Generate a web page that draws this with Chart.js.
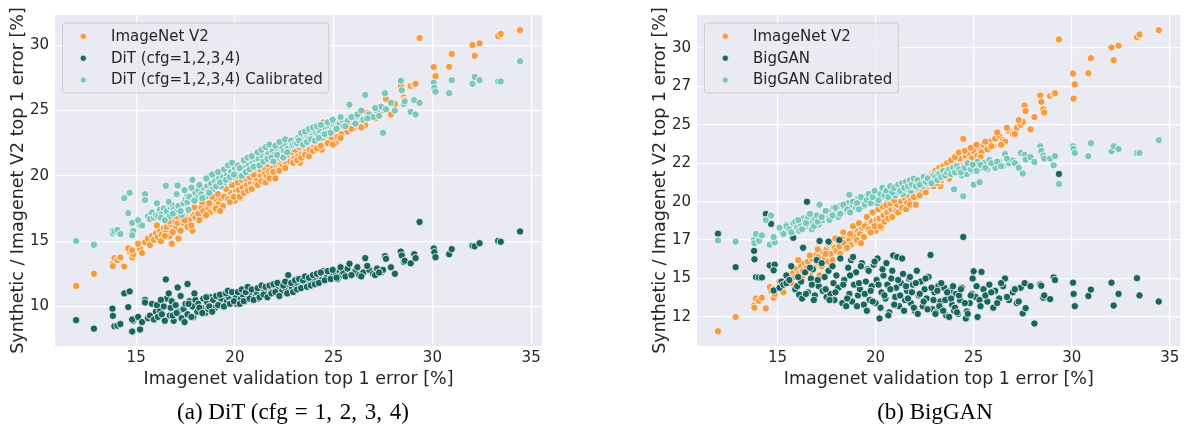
<!DOCTYPE html>
<html><head><meta charset="utf-8">
<script src="https://cdn.jsdelivr.net/npm/chart.js@4.4.1/dist/chart.umd.min.js"></script>
<style>
html,body{margin:0;padding:0;background:#fff;width:1185px;height:425px;overflow:hidden;position:relative;}
#c1{position:absolute;left:0;top:0;}
#c2{position:absolute;left:620px;top:0;}
.cap{position:absolute;top:399px;font-family:"Liberation Serif","Times New Roman",serif;font-size:23px;line-height:26px;color:#000;white-space:nowrap;transform:translateX(-50%);}
.m{word-spacing:2px;}
</style></head><body>
<canvas id="c1" width="565" height="400"></canvas>
<canvas id="c2" width="565" height="400"></canvas>
<div class="cap" id="cap1" style="left:293px"></div>
<div class="cap" id="cap2" style="left:935px"></div>
<script>
// ---- data ----
const valError = [
11.96,12.86,13.80,13.82,13.90,14.05,14.20,14.40,14.67,14.60,
14.80,14.85,14.80,15.20,15.10,15.30,15.45,15.45,15.60,15.70,
15.80,15.90,16.00,16.10,16.20,16.30,16.40,16.50,16.55,16.70,
16.75,16.80,16.90,17.00,17.10,17.14,17.30,17.40,17.50,17.60,
17.60,17.70,17.85,17.90,18.00,18.10,18.15,18.30,18.40,18.50,
18.60,18.66,18.75,18.80,18.90,19.00,19.10,19.20,19.30,19.40,
19.50,19.60,19.70,19.80,19.90,20.00,20.05,20.10,20.20,20.30,
20.40,20.50,20.60,20.70,20.80,20.90,21.00,21.05,21.10,21.20,
21.30,21.40,21.50,21.60,21.70,21.80,21.90,22.00,22.10,22.20,
22.30,22.40,22.50,22.60,22.70,22.80,22.90,23.00,23.10,23.20,
23.30,23.40,23.50,23.60,23.70,23.80,23.90,24.00,24.10,24.20,
24.30,24.40,24.47,24.60,24.65,24.80,24.90,25.00,25.10,25.20,
25.30,25.40,25.50,25.70,25.80,26.00,26.10,26.30,26.50,26.60,
26.80,27.00,27.20,27.40,27.50,27.60,27.65,27.90,28.10,28.40,
28.45,28.55,28.60,28.90,29.08,29.15,29.35,30.07,30.10,30.16,
30.85,30.98,32.03,32.14,32.39,33.33,33.46,34.44,
16.05,16.25,16.45,16.65,16.85,17.05,17.25,17.45,17.65,17.80,
17.95,18.20,18.35,18.55,18.70,18.85,19.05,19.15,19.25,19.45,
19.55,19.65,19.75,19.85,19.95,20.15,20.25,20.35,20.45,20.55,
20.65,20.75,20.85,20.95,21.15,21.25,21.35,21.45,21.55,21.65,
21.75,21.85,21.95,22.05,22.15,22.25,22.45,22.55,22.65,22.85,
22.95,23.05,23.15,23.25,23.35,23.45,23.55,23.65,23.75,23.85,
23.95,24.05,24.15,24.25,24.35,24.55,24.70,24.85,24.95,25.15,
25.35,25.60,25.90,26.20,26.40,26.70,27.10,27.30];

const v2Error = [
11.57,12.50,13.25,13.10,13.70,13.55,13.75,13.05,14.20,14.45,
13.75,14.00,14.30,14.40,14.80,14.10,15.00,14.90,15.20,14.70,
15.40,15.10,15.60,15.30,15.80,15.50,16.00,15.70,16.10,15.40,
16.30,14.80,16.50,16.00,16.40,15.20,16.70,16.40,16.90,16.10,
17.20,16.60,15.80,17.00,16.80,17.40,17.10,17.60,17.30,16.90,
17.80,17.50,17.20,18.00,17.70,17.40,18.10,17.90,18.30,17.70,
18.50,18.20,18.00,18.70,18.40,18.10,18.80,18.50,18.90,18.30,
19.10,18.70,19.30,18.90,19.50,19.10,19.70,19.40,19.80,19.30,
20.00,19.60,20.20,19.90,20.40,20.10,20.60,20.30,20.80,20.50,
21.00,20.70,21.20,20.90,21.40,21.10,21.60,21.30,21.80,21.50,
21.00,21.70,22.10,21.90,22.30,22.00,22.50,22.20,22.60,22.40,
22.80,22.00,24.08,22.90,22.60,23.10,22.80,23.30,22.50,23.00,
23.50,23.20,23.70,23.40,23.90,23.60,24.10,24.30,24.00,23.90,
24.60,24.40,24.80,25.00,25.20,26.25,25.90,24.70,25.50,26.90,
26.50,26.00,25.80,26.88,27.00,27.05,30.55,28.33,26.70,27.63,
28.35,29.33,30.02,29.20,30.15,30.70,30.87,31.15,
16.20,15.00,15.40,16.50,15.70,16.90,15.80,16.60,17.30,16.20,
17.60,16.60,18.00,17.00,17.90,18.40,17.50,18.60,17.30,18.40,
19.00,18.20,18.00,19.30,18.40,19.50,18.40,19.70,18.70,19.80,
18.90,19.90,19.00,20.10,19.30,20.50,19.60,20.70,19.50,20.90,
19.80,21.10,20.30,19.80,21.30,20.40,21.40,20.60,21.60,21.80,
21.00,22.00,21.20,22.20,21.40,22.30,21.60,22.50,21.50,22.70,
21.90,22.90,22.10,23.20,22.30,23.30,22.50,23.50,22.40,23.70,
22.90,23.90,23.60,24.50,23.70,24.80,24.40,25.30];

const ditError = [
8.95,8.30,9.83,9.28,8.48,8.53,8.65,11.00,11.15,9.95,
8.08,8.90,9.00,8.23,9.20,8.80,10.50,10.30,9.10,9.30,
10.20,9.00,9.60,9.20,9.70,9.40,10.00,12.07,10.60,9.30,
9.90,10.40,8.90,10.10,11.45,9.60,9.10,9.80,10.20,11.72,
9.40,10.40,10.00,9.20,10.50,9.60,10.20,9.90,10.60,9.50,
10.30,9.80,10.70,10.10,10.50,9.90,10.80,10.20,10.60,10.00,
10.90,10.40,10.70,10.30,11.00,10.50,10.80,10.20,11.10,10.60,
10.90,10.40,11.20,10.70,11.00,10.50,11.30,10.80,11.10,10.60,
11.40,10.90,11.20,10.70,11.50,11.00,11.30,11.60,11.10,11.40,
11.70,11.20,11.50,11.30,12.40,11.60,11.40,11.80,11.50,11.70,
11.40,11.90,11.60,11.80,12.00,11.70,12.10,11.90,12.20,11.80,
12.30,12.00,12.70,12.40,12.20,12.60,12.30,12.80,12.50,12.10,
12.70,12.40,12.60,12.90,13.27,12.50,12.70,12.40,12.60,13.70,
12.80,12.50,12.90,12.60,12.80,13.85,13.65,13.00,12.50,14.20,
13.90,13.40,13.50,13.30,14.00,13.70,16.47,14.44,14.15,13.77,
14.00,14.39,14.64,14.60,14.84,15.02,14.95,15.74,
10.10,10.50,8.90,11.00,9.30,9.50,10.80,8.80,10.20,9.20,
11.00,9.90,9.50,10.70,10.00,9.60,10.80,10.10,10.90,10.00,
11.00,11.20,10.20,11.10,10.40,11.10,10.20,11.30,10.40,11.10,
11.50,10.60,11.30,10.50,11.40,10.70,11.60,10.90,11.50,10.70,
11.60,11.00,11.70,11.10,11.80,10.80,11.60,11.90,11.00,11.80,
11.10,12.00,11.30,12.10,11.40,12.00,12.30,11.50,12.20,11.60,
12.40,11.70,12.50,11.80,12.60,12.00,12.70,12.10,12.80,12.20,
13.00,12.30,12.40,13.00,12.30,13.10,12.40,12.60];

const ditCalError = [
15.02,14.72,15.80,15.60,15.75,15.85,15.55,18.30,18.70,17.15,
16.40,15.77,15.45,16.20,16.60,16.20,18.60,18.15,16.90,16.70,
17.20,16.80,17.00,16.90,17.40,17.10,17.50,19.24,17.30,16.90,
17.60,17.80,17.40,17.20,19.26,17.70,17.00,17.90,18.20,18.50,
18.00,18.40,19.70,18.10,18.70,18.30,18.90,18.60,19.10,18.40,
19.20,18.80,20.00,19.40,19.00,19.60,19.30,19.80,19.20,19.90,
19.50,20.10,19.70,20.30,19.90,20.60,20.20,20.00,20.70,20.40,
20.10,20.60,20.30,20.80,20.50,21.00,20.60,21.20,20.80,21.30,
20.90,21.50,21.10,21.40,21.70,21.20,21.90,21.60,21.40,22.00,
21.70,22.20,21.90,22.40,22.10,22.60,22.30,22.70,22.40,22.90,
22.50,23.00,22.60,23.20,22.80,23.40,23.00,22.70,23.30,23.10,
23.50,22.90,23.20,23.60,23.30,23.80,23.50,23.90,23.70,24.10,
24.00,24.30,23.80,24.20,25.45,24.40,24.00,24.60,24.30,26.20,
24.70,24.50,25.00,25.30,23.30,26.33,25.10,25.60,25.00,27.28,
26.55,25.50,25.70,24.90,25.80,24.70,25.60,27.13,26.75,26.45,
26.33,27.33,27.05,27.58,27.33,27.23,27.23,28.78,
17.90,16.80,16.60,18.00,17.10,18.60,17.30,18.90,17.40,19.10,
18.10,19.30,18.30,19.80,18.70,20.10,19.20,20.30,19.50,20.50,
19.70,20.80,19.90,21.00,20.10,20.80,20.60,20.00,21.20,20.30,
21.40,20.50,21.50,20.70,21.80,20.80,22.00,21.10,22.20,21.30,
22.40,21.40,21.10,22.30,21.60,22.60,21.40,22.80,21.80,22.70,
22.40,22.50,22.50,22.70,23.30,22.40,23.40,22.60,23.60,22.80,
23.70,22.70,23.80,22.90,23.90,23.20,24.10,23.30,24.30,23.60,
24.50,23.80,24.50,24.70,25.00,24.40,25.20,24.60];

const bigganError = [
17.91,15.74,16.80,16.25,15.09,15.07,15.07,19.20,18.55,15.85,
14.22,15.90,15.53,14.80,14.40,14.60,15.20,14.70,14.90,15.80,
17.65,14.30,14.50,13.95,14.80,17.00,15.40,19.99,14.10,15.00,
14.60,15.60,13.90,16.20,14.50,17.44,14.20,15.10,13.80,17.40,
15.50,14.00,14.70,13.60,15.20,14.40,17.50,13.40,14.90,13.20,
15.70,14.00,16.20,13.50,14.60,15.40,13.90,14.30,16.00,13.30,
14.80,15.60,13.60,14.50,15.90,13.40,14.90,16.30,12.40,14.10,
15.20,13.70,14.60,12.80,15.00,16.50,13.80,14.40,16.40,13.20,
14.70,15.30,13.60,14.20,15.00,13.40,14.60,12.90,15.50,13.90,
14.80,13.20,14.30,13.70,15.10,16.53,13.00,14.10,12.80,14.50,
13.50,13.00,14.40,12.60,13.80,14.20,13.30,12.90,14.00,12.70,
13.60,14.40,17.70,12.40,12.86,13.40,14.00,15.47,13.80,12.50,
13.60,15.43,14.30,13.50,14.60,13.10,14.20,13.70,14.50,15.00,
13.60,14.10,13.40,14.40,12.73,14.70,13.07,14.50,12.07,14.62,
14.53,13.75,13.90,13.66,15.07,14.90,21.80,14.73,14.00,13.20,
13.86,14.28,14.73,13.24,14.00,15.02,13.90,13.50,
15.10,13.70,14.00,15.70,13.60,14.90,16.00,14.30,13.60,15.80,
14.10,16.30,14.60,13.70,15.20,16.40,13.20,14.70,15.80,14.00,
12.90,15.50,14.20,13.50,16.10,14.60,13.10,15.60,13.90,16.00,
12.60,14.30,15.50,13.30,14.90,13.90,16.30,12.90,14.50,13.70,
15.10,14.10,13.10,14.70,12.70,14.00,13.50,15.00,13.00,14.40,
13.60,12.70,14.20,13.20,14.70,12.90,13.60,14.10,12.50,13.70,
14.50,13.10,12.80,13.90,14.30,13.40,12.70,13.90,15.00,14.50,
13.20,13.90,14.10,13.40,14.70,13.80,14.30,13.50];

const bigganCalError = [
17.48,17.40,17.50,17.30,17.90,17.45,17.80,18.80,19.10,17.20,
17.60,17.35,17.70,18.10,18.30,17.90,18.50,18.40,18.20,18.00,
18.60,18.70,18.30,18.10,18.50,18.90,18.40,18.80,19.00,18.60,
18.20,18.70,18.90,19.10,18.50,19.80,18.80,19.20,19.00,19.30,
18.90,19.40,19.60,19.20,19.50,19.00,19.70,19.30,19.60,19.40,
19.90,20.45,19.50,19.70,20.00,19.60,20.20,19.80,20.10,19.70,
20.30,19.90,20.40,20.00,20.50,20.20,20.60,19.90,20.40,20.70,
20.30,20.60,20.20,20.80,20.50,20.90,20.40,20.70,21.00,20.60,
20.90,20.50,21.10,20.80,21.20,20.70,21.00,21.30,20.90,21.20,
21.40,21.00,21.50,21.20,21.60,21.30,21.70,21.40,21.80,21.50,
21.90,21.60,22.00,21.70,22.10,21.80,22.20,20.80,21.90,22.30,
22.00,21.70,20.35,22.10,21.80,22.40,22.00,21.10,22.30,22.60,
21.26,22.20,22.50,22.10,22.70,22.40,22.20,22.60,22.30,23.10,
22.50,22.68,22.40,23.17,21.83,23.04,22.74,22.90,22.58,23.60,
23.30,23.00,22.80,22.80,22.36,22.96,21.15,23.60,23.42,23.17,
22.96,23.80,23.27,23.60,23.42,23.17,23.17,24.00,
18.80,18.20,18.60,19.20,18.40,18.70,19.00,19.40,18.80,19.10,
19.60,19.20,19.80,19.50,19.30,20.00,19.90,19.50,20.30,19.80,
20.10,20.50,19.90,20.30,20.70,20.10,20.50,20.90,20.40,20.70,
20.30,21.00,20.60,20.90,21.10,20.70,21.20,20.90,21.30,21.00,
21.40,21.10,21.50,21.00,21.40,21.10,21.60,21.30,21.50,21.20,
21.70,21.60,21.40,21.80,21.60,22.00,21.70,21.90,22.10,21.80,
22.20,21.90,22.30,22.10,21.90,22.20,22.50,22.10,22.40,22.00,
22.40,22.20,22.50,22.60,22.30,22.80,22.50,22.20];

const labelsDiT = ['ImageNet V2', 'DiT (cfg=1,2,3,4)', 'DiT (cfg=1,2,3,4) Calibrated'];
const labelsBigGAN = ['ImageNet V2', 'BigGAN', 'BigGAN Calibrated'];
const xTitle = 'Imagenet validation top 1 error [%]';
const yTitle = 'Synthetic / Imagenet V2 top 1 error [%]';
const captionA = ['(a) DiT (cfg', '=', '1, 2, 3, 4)'];
const captionB = '(b) BigGAN';

// ---- styling ----
const COLORS = ['#F59B40', '#19655F', '#7CC7BB'];
const TXT = '#262626';
const FONT = '"DejaVu Sans", "Liberation Sans", sans-serif';

document.getElementById('cap1').innerHTML =
  captionA[0] + '<span style="margin:0 7px">' + captionA[1] + '</span><span class="m">' + captionA[2] + '</span>';
document.getElementById('cap2').textContent = captionB;

function pts(ys) { return valError.map((x, i) => ({x: x, y: ys[i]})); }

const bgPlugin = {
  id: 'bgArea',
  beforeDraw(chart) {
    const a = chart.chartArea, c = chart.ctx;
    c.save(); c.fillStyle = '#EAEAF2';
    c.fillRect(a.left, a.top, a.right - a.left, a.bottom - a.top);
    c.restore();
  }
};

const legendPlugin = {
  id: 'insideLegend',
  afterDatasetsDraw(chart) {
    const a = chart.chartArea, c = chart.ctx;
    const ds = chart.data.datasets;
    c.save();
    c.font = '15px ' + FONT;
    let maxW = 0;
    ds.forEach(d => { maxW = Math.max(maxW, c.measureText(d.label).width); });
    const bx = a.left + 7.5, by = a.top + 8, bw = 48.5 + maxW + 6, bh = 70, r = 3;
    c.beginPath();
    c.moveTo(bx + r, by); c.lineTo(bx + bw - r, by); c.arcTo(bx + bw, by, bx + bw, by + r, r);
    c.lineTo(bx + bw, by + bh - r); c.arcTo(bx + bw, by + bh, bx + bw - r, by + bh, r);
    c.lineTo(bx + r, by + bh); c.arcTo(bx, by + bh, bx, by + bh - r, r);
    c.lineTo(bx, by + r); c.arcTo(bx, by, bx + r, by, r); c.closePath();
    c.fillStyle = 'rgba(234,234,242,0.8)'; c.fill();
    c.strokeStyle = '#CCCCCC'; c.lineWidth = 1; c.stroke();
    ds.forEach((d, i) => {
      const y = a.top + 21.3 + i * 21.9;
      c.beginPath(); c.arc(a.left + 28.3, y, 3, 0, Math.PI * 2);
      c.fillStyle = d.backgroundColor; c.fill();
      c.strokeStyle = '#fff'; c.lineWidth = 0.5; c.stroke();
      c.fillStyle = TXT; c.textBaseline = 'middle'; c.textAlign = 'left';
      c.fillText(d.label, a.left + 56, y + 0.5);
    });
    c.restore();
  }
};

function makeChart(id, labels, series, yMin, yMax, yStep, yAxisW, titlePad, padRight, tickFmt) {
  const datasets = series.map((s, i) => ({
    label: labels[i], data: pts(s),
    backgroundColor: COLORS[i], borderColor: '#FFFFFF', borderWidth: 0.8,
    pointRadius: 3.7, pointHoverRadius: 3.7, order: 3 - i
  }));
  return new Chart(document.getElementById(id), {
    type: 'scatter',
    data: {datasets},
    plugins: [bgPlugin, legendPlugin],
    options: {
      responsive: false, animation: false, devicePixelRatio: 1,
      layout: {padding: {left: 0, top: 7, right: padRight, bottom: 10}},
      plugins: {legend: {display: false}, tooltip: {enabled: false}},
      events: [],
      scales: {
        x: {
          type: 'linear', min: 10.89, max: 35.55,
          ticks: {stepSize: 5, includeBounds: false, color: TXT, padding: 3,
                  font: {family: FONT, size: 15}, maxRotation: 0},
          grid: {color: '#FFFFFF', lineWidth: 1.2, drawTicks: false},
          border: {display: false},
          title: {display: true, text: xTitle, color: TXT, font: {family: FONT, size: 17.5},
                  padding: {top: 0, bottom: 0}},
          afterFit(s) { s.height = 44; }
        },
        y: {
          type: 'linear', min: yMin, max: yMax,
          ticks: {stepSize: yStep, includeBounds: false, color: TXT, padding: 6,
                  font: {family: FONT, size: 15}, callback: tickFmt},
          grid: {color: '#FFFFFF', lineWidth: 1.2, drawTicks: false},
          border: {display: false},
          title: {display: true, text: yTitle, color: TXT, font: {family: FONT, size: 17.5},
                  padding: {top: titlePad, bottom: 0}},
          afterFit(s) { s.width = yAxisW; }
        }
      }
    }
  });
}

makeChart('c1', labelsDiT, [v2Error, ditError, ditCalError], 6.97, 32.32, 5, 55, 7.8, 23,
  v => String(Math.floor(v)));
makeChart('c2', labelsBigGAN, [v2Error, bigganError, bigganCalError], 10.61, 32.14, 2.5, 77, 29.5, 2,
  v => String(Math.floor(v)));
</script>
</body></html>
